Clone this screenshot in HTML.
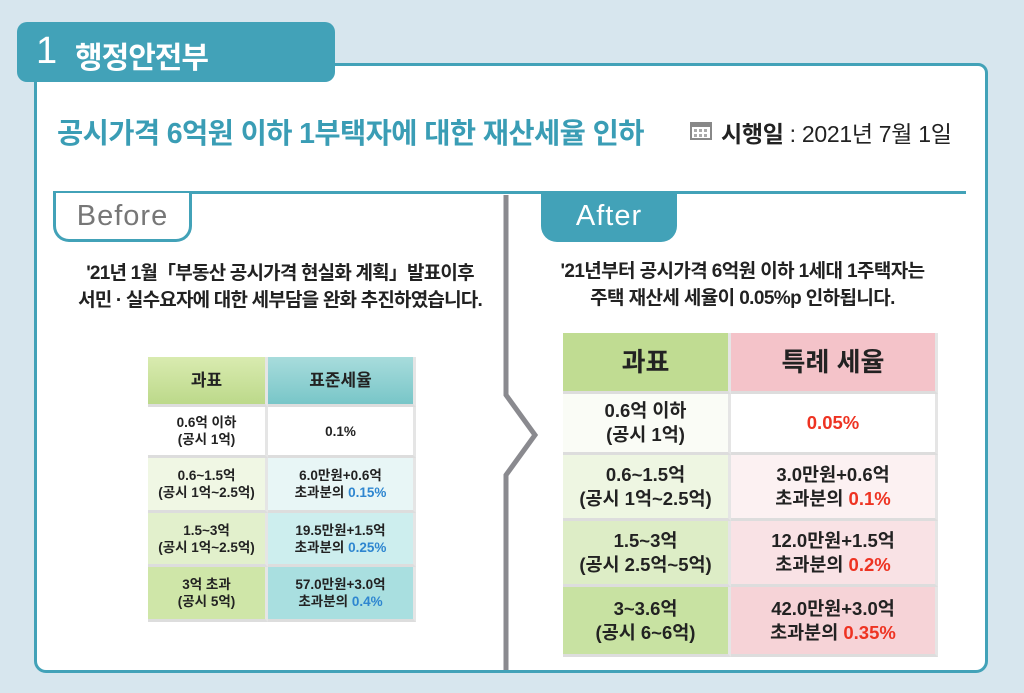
<!DOCTYPE html>
<html><head><meta charset="utf-8"><style>
*{margin:0;padding:0;box-sizing:border-box}
body{width:1024px;height:693px;background:#d7e6ee;position:relative;overflow:hidden;font-family:"Liberation Sans","Noto Sans CJK KR",sans-serif}
.a{position:absolute}
.box{left:34px;top:63px;width:954px;height:610px;background:#fff;border:3px solid #42a2b8;border-radius:0 10px 12px 12px}
.tab{left:17px;top:22px;width:318px;height:60px;background:#42a2b8;border-radius:10px;color:#fff}
.hl{left:53px;top:191px;width:913px;height:3px;background:#42a2b8}
.bt{left:53px;top:193px;width:139px;height:49px;border:3px solid #42a2b8;border-top:none;border-radius:0 0 16px 16px;background:#fff;color:#777;font-size:29px;text-align:center;line-height:46px;letter-spacing:1px}
.at{left:541px;top:193px;width:136px;height:49px;background:#42a2b8;border-radius:0 0 16px 16px;color:#fff;font-size:29px;text-align:center;line-height:46px;letter-spacing:1px}
.txt{font-weight:bold;color:#222;text-align:center;line-height:27px;white-space:nowrap}
table{position:absolute;border-collapse:separate;border-spacing:0;font-weight:bold;color:#222;text-align:center}
td{border-bottom:3px solid #ddd;border-right:3px solid #e5e5e5;padding:0}
.b{color:#2e86d0}.r{color:#ee3322}
</style></head><body>
<div class="a box"></div>
<div class="a tab"><span class="a" style="left:19px;top:8px;font-size:38px">1</span><span class="a" style="left:58px;top:11px;font-size:30px;font-weight:bold;letter-spacing:-1px">행정안전부</span></div>
<div class="a" style="left:57px;top:111px;font-size:28.5px;color:#3a9db5;font-weight:bold;letter-spacing:-0.6px;white-space:nowrap">공시가격 6억원 이하 1부택자에 대한 재산세율 인하</div>
<svg class="a" style="left:690px;top:120px" width="22" height="20"><rect x="1" y="3" width="20" height="16" fill="none" stroke="#888" stroke-width="2"/><rect x="1" y="3" width="20" height="4" fill="#888"/><g fill="#aaa"><rect x="4" y="9" width="3" height="3"/><rect x="9" y="9" width="3" height="3"/><rect x="14" y="9" width="3" height="3"/><rect x="4" y="14" width="3" height="3"/><rect x="9" y="14" width="3" height="3"/><rect x="14" y="14" width="3" height="3"/></g></svg>
<div class="a" style="left:721px;top:115px;font-size:23px;color:#222;white-space:nowrap;letter-spacing:-0.3px"><b>시행일</b> : 2021년 7월 1일</div>
<div class="a hl"></div>
<div class="a bt">Before</div>
<div class="a at">After</div>
<svg class="a" style="left:495px;top:195px" width="50" height="475"><polyline points="11,0 11,200 40,240 11,280 11,475" fill="none" stroke="#8a8a8f" stroke-width="5"/></svg>
<div class="a txt" style="left:40px;top:260px;width:480px;font-size:19px;letter-spacing:-0.8px">'21년 1월「부동산 공시가격 현실화 계획」발표이후<br>서민 · 실수요자에 대한 세부담을 완화 추진하였습니다.</div>
<div class="a txt" style="left:520px;top:258px;width:445px;font-size:19px;letter-spacing:-0.6px">'21년부터 공시가격 6억원 이하 1세대 1주택자는<br>주택 재산세 세율이 0.05%p 인하됩니다.</div>
<table style="left:148px;top:357px;width:268px;font-size:13.5px;line-height:17px">
<tr style="height:50px;font-size:17px"><td style="width:120px;background:linear-gradient(#d9ebb0,#bcd98a)">과표</td><td style="background:linear-gradient(#a8dcdc,#78c6c8)">표준세율</td></tr>
<tr style="height:51px"><td style="background:#fff">0.6억 이하<br>(공시 1억)</td><td style="background:#fff">0.1%</td></tr>
<tr style="height:55px"><td style="background:#f0f7e4">0.6~1.5억<br>(공시 1억~2.5억)</td><td style="background:#e8f6f6">6.0만원+0.6억<br>초과분의 <span class="b">0.15%</span></td></tr>
<tr style="height:54px"><td style="background:#e2f0cc">1.5~3억<br>(공시 1억~2.5억)</td><td style="background:#cdeeee">19.5만원+1.5억<br>초과분의 <span class="b">0.25%</span></td></tr>
<tr style="height:55px"><td style="background:#cfe6a8">3억 초과<br>(공시 5억)</td><td style="background:#a9dfe0">57.0만원+3.0억<br>초과분의 <span class="b">0.4%</span></td></tr>
</table>
<table style="left:563px;top:333px;width:375px;font-size:18.5px;line-height:24px">
<tr style="height:61px;font-size:26px"><td style="width:168px;background:#c0dc92">과표</td><td style="background:#f4c3c9">특례 세율</td></tr>
<tr style="height:61px"><td style="background:#fafcf6">0.6억 이하<br>(공시 1억)</td><td style="background:#fff"><span class="r">0.05%</span></td></tr>
<tr style="height:66px"><td style="background:#eef6e2">0.6~1.5억<br>(공시 1억~2.5억)</td><td style="background:#fcf1f2">3.0만원+0.6억<br>초과분의 <span class="r">0.1%</span></td></tr>
<tr style="height:66px"><td style="background:#ddedc6">1.5~3억<br>(공시 2.5억~5억)</td><td style="background:#f9e2e5">12.0만원+1.5억<br>초과분의 <span class="r">0.2%</span></td></tr>
<tr style="height:70px"><td style="background:#c8e2a2">3~3.6억<br>(공시 6~6억)</td><td style="background:#f6d3d7">42.0만원+3.0억<br>초과분의 <span class="r">0.35%</span></td></tr>
</table>
</body></html>
